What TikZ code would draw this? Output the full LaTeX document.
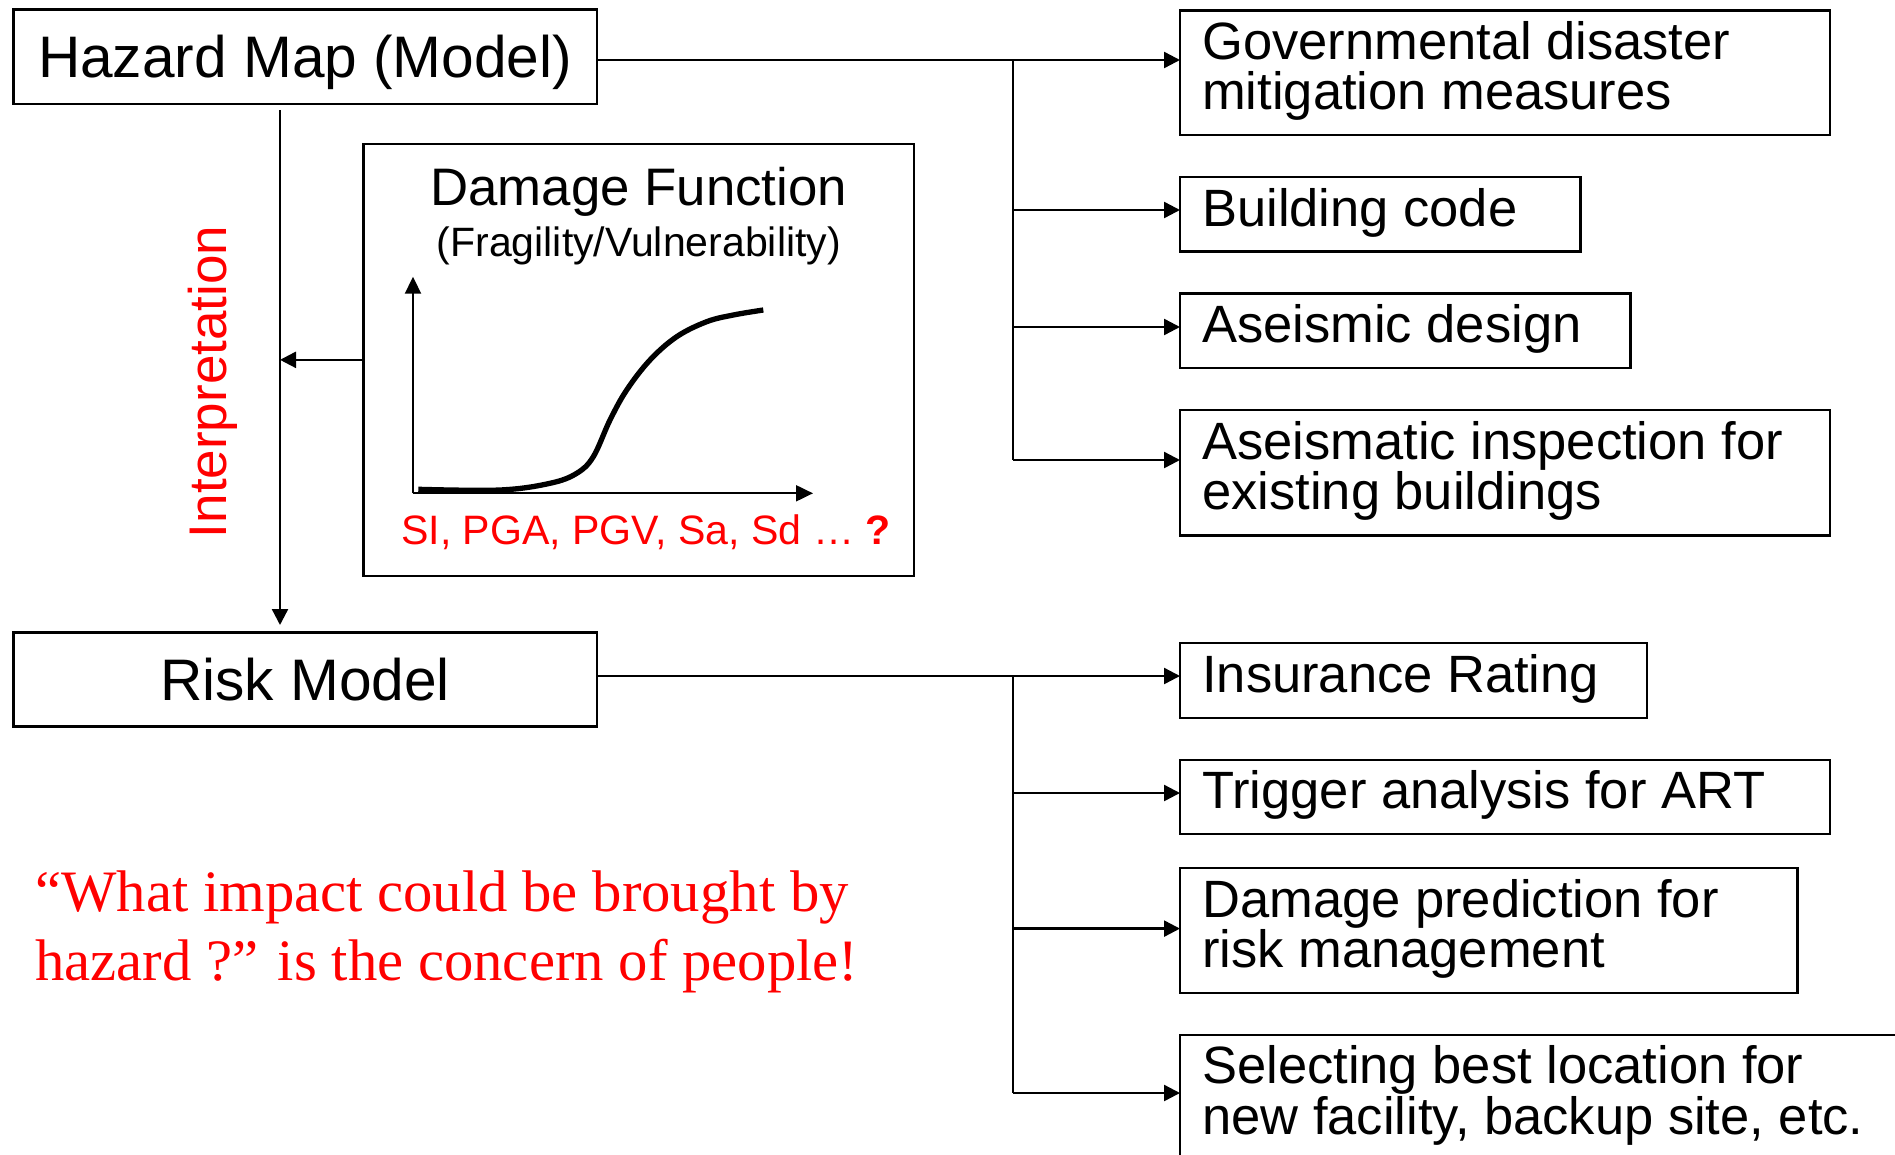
\documentclass[tikz,border=0pt]{standalone}
\usepackage{fontspec}
\setmainfont{Liberation Sans}
\newfontfamily\quotefont{Liberation Serif}
\usetikzlibrary{arrows.meta}
\definecolor{hred}{RGB}{255,0,0}
\begin{document}
\begin{tikzpicture}[x=1pt,y=-1pt,
  box/.style={draw, line width=2.4pt, inner sep=0pt, outer sep=0pt, anchor=north west},
  conn/.style={line width=2.4pt},
  arr/.style={conn, -{Triangle[length=16pt,width=16pt]}},
  axisline/.style={line width=2pt, -{Triangle[length=17pt,width=16pt]}},
  rt/.style={font=\fontsize{52.5}{50.5}\selectfont, anchor=base west, align=left, inner sep=0pt},
  big/.style={font=\fontsize{58.6}{60}\selectfont, text height=42pt, text depth=0pt}
]
\useasboundingbox (0,0) rectangle (1895,1154);
\fill[white] (0,0) rectangle (1895,1154);
\clip (0,0) rectangle (1895,1154);

% left column
\node[box, big, minimum width=583.7pt, minimum height=94.4pt] (hazard) at (13.3,9.6) {Hazard Map (Model)};
\node[box, big, minimum width=583.7pt, minimum height=94pt] (risk) at (13.3,632.5) {Risk Model};
\node[box, minimum width=550.4pt, minimum height=432.3pt] (df) at (363.6,143.7) {};

\node[font=\fontsize{52.8}{54}\selectfont, anchor=base, inner sep=0pt] (dft) at (638.8,205) {Damage Function};
\node[font=\fontsize{41}{42}\selectfont, anchor=base, inner sep=0pt] (dfs) at (638.8,256.7) {(Fragility/Vulnerability)};
\node[font=\fontsize{41.1}{42}\selectfont, text=hred, anchor=base west, inner sep=0pt] (dfx) at (401,544) {SI, PGA, PGV, Sa, Sd … \textbf{?}};

% damage curve
\coordinate (o) at (413,493.3);
\coordinate (ytip) at (413,276.7);
\coordinate (xtip) at (813,493.3);
\draw[axisline] (o) -- (ytip);
\draw[axisline] (o) -- (xtip);
\draw[line width=5.3pt] plot[smooth, tension=0.6] coordinates {(418.3,489.3) (500,490) (550,483.3) (576.7,473.3) (593.3,456.7) (610,420) (626.7,390) (650,360) (676.7,336.7) (706.7,321.7) (733.3,315) (763.3,310)};

% interpretation
\coordinate (vline) at (280,0);
\draw[arr, shorten <=6pt, shorten >=7.5pt] (hazard.south -| vline) -- (risk.north -| vline);
\draw[arr] (df.west) -- (df.west -| vline);
\node[font=\fontsize{53}{54}\selectfont, text=hred, rotate=90, anchor=base, inner sep=0pt] (interp) at (226,382) {Interpretation};

% right boxes, upper group (multi-line texts are anchored at the baseline of their last line)
\node[box, minimum width=650pt, minimum height=124.7pt] (gov) at (1180,10.3) {};
\node[rt] at (1202,109.5) {Governmental disaster\\mitigation measures};
\node[box, minimum width=400.5pt, minimum height=74.3pt] (bc) at (1180,177) {};
\node[rt] at (1202,226) {Building code};
\node[box, minimum width=450.5pt, minimum height=74.5pt] (ad) at (1180,293.5) {};
\node[rt] at (1202,342) {Aseismic design};
\node[box, minimum width=650pt, minimum height=125.6pt] (insp) at (1180,410) {};
\node[rt] at (1202,509.6) {Aseismatic inspection for\\existing buildings};

% right boxes, lower group
\node[box, minimum width=467pt, minimum height=74.7pt] (ins) at (1180,643) {};
\node[rt] at (1202,692.6) {Insurance Rating};
\node[box, minimum width=650pt, minimum height=74.3pt] (trig) at (1180,759.7) {};
\node[rt] at (1202,808.5) {Trigger analysis for ART};
\node[box, minimum width=617.5pt, minimum height=125pt] (dp) at (1180,868) {};
\node[rt] at (1202,967.5) {Damage prediction for\\risk management};
\node[box, minimum width=800pt, minimum height=200pt] (sel) at (1180,1035) {};
\node[rt] at (1202,1134) {Selecting best location for\\new facility, backup site, etc.};

% upper tree
\coordinate (j1) at (1013,60);
\coordinate (j2) at (1013,210);
\coordinate (j3) at (1013,327);
\coordinate (j4) at (1013,460);
\draw[arr] (hazard.east |- j1) -- (j1 -| gov.west);
\draw[conn] (j1) -- (j4);
\draw[arr] (j2) -- (j2 -| bc.west);
\draw[arr] (j3) -- (j3 -| ad.west);
\draw[arr] (j4) -- (j4 -| insp.west);

% lower tree
\coordinate (k1) at (1013,676);
\coordinate (k2) at (1013,793);
\coordinate (k3) at (1013,928.6);
\coordinate (k4) at (1013,1093);
\draw[arr] (risk.east |- k1) -- (k1 -| ins.west);
\draw[conn] (k1) -- (k4);
\draw[arr] (k2) -- (k2 -| trig.west);
\draw[arr] (k3) -- (k3 -| dp.west);
\draw[arr] (k4) -- (k4 -| sel.west);

% quote
\node[font=\quotefont\fontsize{58.7}{69.6}\selectfont, text=hred, anchor=base west, align=left, inner sep=0pt] (quote) at (35,980.6) {“What impact could be brought by\\hazard ?” is the concern of people!};
\end{tikzpicture}
\end{document}
